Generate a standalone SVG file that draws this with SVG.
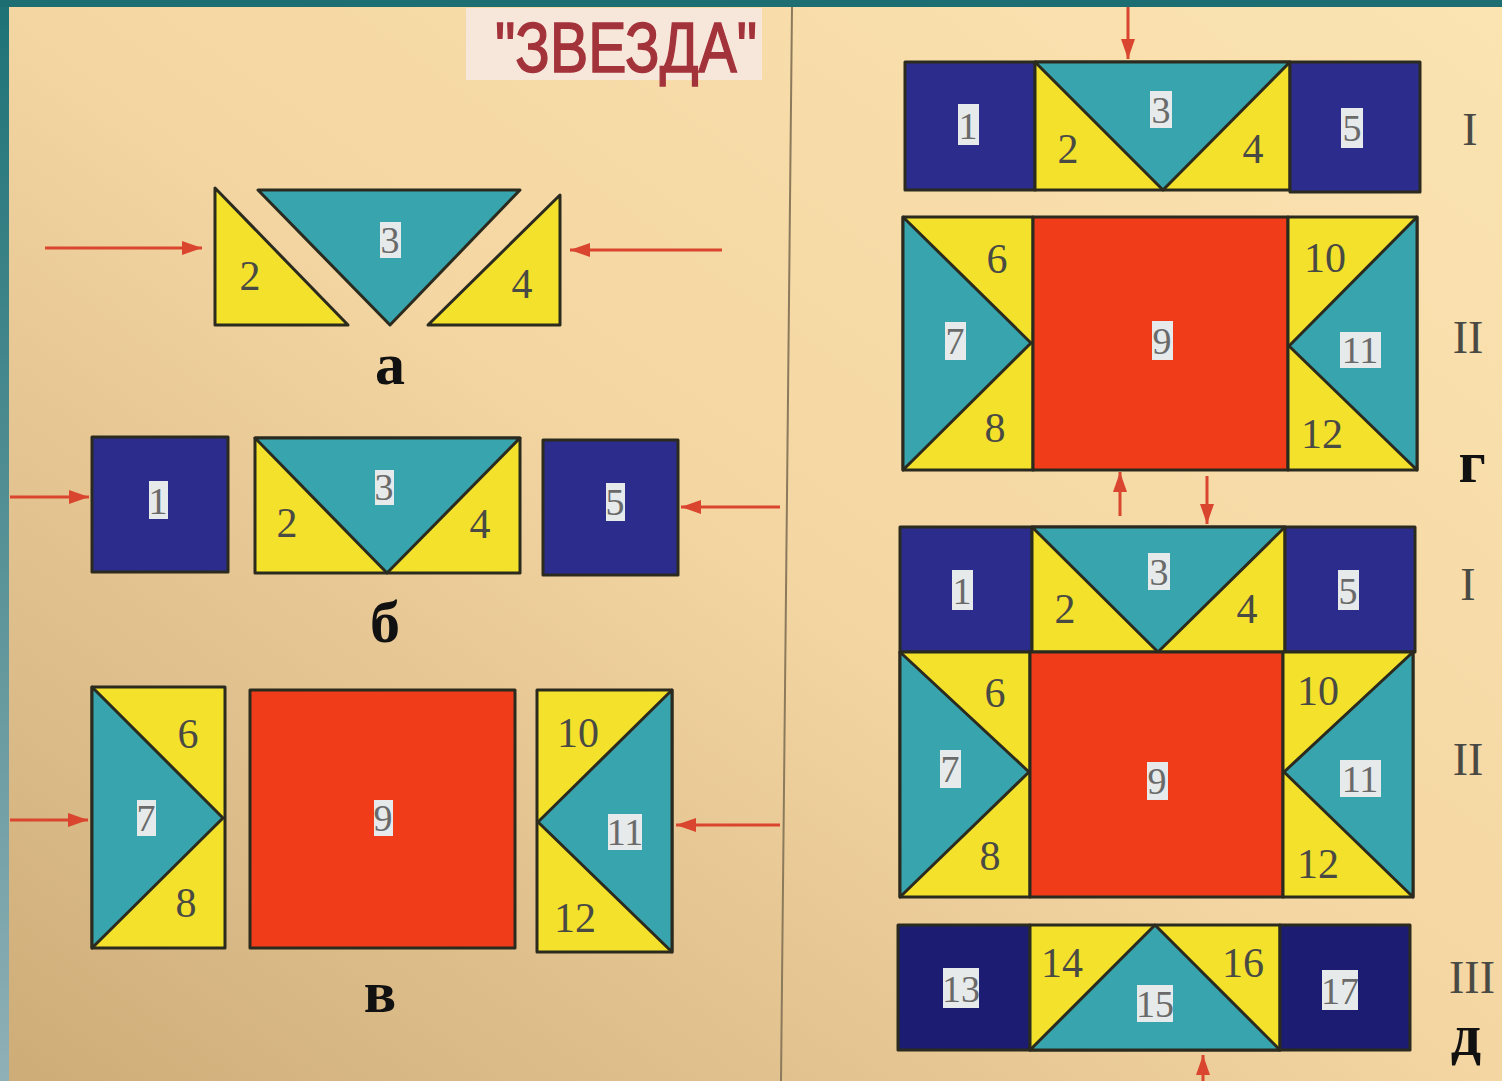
<svg xmlns="http://www.w3.org/2000/svg" width="1502" height="1081" viewBox="0 0 1502 1081">
<defs>
<linearGradient id="bg" x1="1" y1="0" x2="0" y2="1">
<stop offset="0" stop-color="#fbe4b2"/>
<stop offset="0.5" stop-color="#f4d6a2"/>
<stop offset="1" stop-color="#cdac78"/>
</linearGradient>
<linearGradient id="edge" x1="0" y1="0" x2="0" y2="1">
<stop offset="0" stop-color="#1d7276"/>
<stop offset="1" stop-color="#8fb0b6"/>
</linearGradient>
<marker id="ah" markerUnits="userSpaceOnUse" markerWidth="22" markerHeight="16" refX="20" refY="8" orient="auto">
<path d="M0,1 L20,8 L0,15 Z" fill="#d9452e"/>
</marker>
<style>
.o{stroke:#2b2a1e;stroke-width:3;stroke-linejoin:round}
.y{fill:#f3e12b}
.t{fill:#38a5ae}
.b{fill:#2c2c8c}
.bd{fill:#1c1c72}
.r{fill:#f03c18}
.n{font-family:"Liberation Serif","DejaVu Serif",serif;font-size:42px;fill:#4a4a44;text-anchor:middle}
.nb{fill:#e6eaea}
.nt{font-family:"Liberation Serif","DejaVu Serif",serif;font-size:38px;fill:#6a6a6a;text-anchor:middle}
.lt{font-family:"Liberation Serif","DejaVu Serif",serif;font-size:60px;font-weight:bold;fill:#111;text-anchor:middle}
.rm{font-family:"Liberation Serif","DejaVu Serif",serif;font-size:46px;fill:#4a4a44;text-anchor:middle}
.ar{stroke:#d9452e;stroke-width:3;fill:none;marker-end:url(#ah)}
</style>
</defs>

<rect x="0" y="0" width="1502" height="1081" fill="url(#bg)"/>
<rect x="0" y="0" width="9" height="1081" fill="url(#edge)"/>
<rect x="0" y="0" width="1502" height="7" fill="#1c6e72"/>
<line x1="792" y1="7" x2="781" y2="1081" stroke="#8c7a5c" stroke-width="2"/>

<g id="title">
<rect x="466" y="8" width="296" height="72" fill="#f7e6da"/>
<text x="495" y="72" font-family="'Liberation Sans','DejaVu Sans',sans-serif" font-size="70" fill="#a3333a" stroke="#a3333a" stroke-width="1.5" textLength="262" lengthAdjust="spacingAndGlyphs">"ЗВЕЗДА"</text>
</g>

<!-- part a -->
<g id="a-piece2">
<polygon class="o y" points="215,188 215,325 348,325"/>
<text class="n" x="250" y="290">2</text>
</g>
<g id="a-piece3">
<polygon class="o t" points="258,190 520,190 390,325"/>
<rect class="nb" x="380" y="222" width="21" height="36"/>
<text class="nt" x="390" y="253">3</text>
</g>
<g id="a-piece4">
<polygon class="o y" points="560,195 560,325 428,325"/>
<text class="n" x="522" y="298">4</text>
</g>
<text class="lt" x="390" y="384">а</text>

<!-- part б -->
<g id="b-piece1">
<rect class="o b" x="92" y="437" width="136" height="135"/>
<rect class="nb" x="149" y="481" width="19" height="38"/>
<text class="nt" x="158" y="514">1</text>
</g>
<g id="b-piece234">
<rect class="o y" x="255" y="438" width="265" height="135"/>
<polygon class="o t" points="255,438 520,438 387,573"/>
<rect class="nb" x="375" y="470" width="19" height="35"/>
<text class="nt" x="384" y="500">3</text>
<text class="n" x="287" y="537">2</text>
<text class="n" x="480" y="538">4</text>
</g>
<g id="b-piece5">
<rect class="o b" x="543" y="440" width="135" height="135"/>
<rect class="nb" x="606" y="483" width="19" height="38"/>
<text class="nt" x="615" y="515">5</text>
</g>
<text class="lt" x="385" y="642">б</text>

<!-- part в -->
<g id="v-left">
<rect class="o y" x="92" y="687" width="133" height="261"/>
<polygon class="o t" points="92,687 223,818 92,948"/>
<text class="n" x="188" y="748">6</text>
<rect class="nb" x="137" y="800" width="19" height="36"/>
<text class="nt" x="146" y="831">7</text>
<text class="n" x="186" y="917">8</text>
</g>
<g id="v-center">
<rect class="o r" x="250" y="690" width="265" height="258"/>
<rect class="nb" x="374" y="800" width="19" height="36"/>
<text class="nt" x="383" y="831">9</text>
</g>
<g id="v-right">
<rect class="o y" x="537" y="690" width="135" height="262"/>
<polygon class="o t" points="672,690 672,952 538,822"/>
<text class="n" x="578" y="747">10</text>
<rect class="nb" x="608" y="814" width="34" height="36"/>
<text class="nt" x="625" y="845">11</text>
<text class="n" x="575" y="932">12</text>
</g>
<text class="lt" x="380" y="1012">в</text>

<!-- part г -->
<g id="g-row1">
<rect class="o b" x="905" y="62" width="130" height="128"/>
<rect class="o y" x="1035" y="62" width="255" height="128"/>
<polygon class="o t" points="1035,62 1290,62 1163,190"/>
<rect class="o b" x="1290" y="62" width="130" height="130"/>
<rect class="nb" x="958" y="104" width="21" height="41"/>
<text class="nt" x="968" y="139">1</text>
<rect class="nb" x="1150" y="91" width="22" height="37"/>
<text class="nt" x="1161" y="123">3</text>
<text class="n" x="1068" y="163">2</text>
<text class="n" x="1253" y="163">4</text>
<rect class="nb" x="1341" y="108" width="22" height="40"/>
<text class="nt" x="1352" y="141">5</text>
</g>
<text class="rm" x="1470" y="145">I</text>
<g id="g-row2">
<rect class="o y" x="903" y="217" width="130" height="253"/>
<polygon class="o t" points="903,217 1031,343 903,470"/>
<rect class="o r" x="1033" y="217" width="255" height="253"/>
<rect class="o y" x="1288" y="217" width="129" height="253"/>
<polygon class="o t" points="1417,217 1417,470 1289,346"/>
<text class="n" x="997" y="273">6</text>
<rect class="nb" x="945" y="322" width="21" height="38"/>
<text class="nt" x="955" y="354">7</text>
<text class="n" x="995" y="442">8</text>
<rect class="nb" x="1152" y="321" width="21" height="39"/>
<text class="nt" x="1162" y="354">9</text>
<text class="n" x="1325" y="272">10</text>
<rect class="nb" x="1340" y="332" width="41" height="36"/>
<text class="nt" x="1360" y="363">11</text>
<text class="n" x="1322" y="448">12</text>
</g>
<text class="rm" x="1468" y="353">II</text>
<text class="lt" x="1472" y="482">г</text>

<!-- part д -->
<g id="d-row1">
<rect class="o b" x="900" y="527" width="132" height="125"/>
<rect class="o y" x="1032" y="527" width="253" height="125"/>
<polygon class="o t" points="1032,527 1285,527 1158,652"/>
<rect class="o b" x="1285" y="527" width="130" height="125"/>
<rect class="nb" x="952" y="570" width="21" height="40"/>
<text class="nt" x="962" y="604">1</text>
<rect class="nb" x="1148" y="553" width="22" height="37"/>
<text class="nt" x="1159" y="585">3</text>
<text class="n" x="1065" y="623">2</text>
<text class="n" x="1247" y="623">4</text>
<rect class="nb" x="1338" y="570" width="21" height="40"/>
<text class="nt" x="1348" y="604">5</text>
</g>
<text class="rm" x="1468" y="600">I</text>
<g id="d-row2">
<rect class="o y" x="900" y="652" width="130" height="245"/>
<polygon class="o t" points="900,652 1029,772 900,897"/>
<rect class="o r" x="1030" y="652" width="253" height="245"/>
<rect class="o y" x="1283" y="652" width="130" height="245"/>
<polygon class="o t" points="1413,652 1413,897 1284,772"/>
<text class="n" x="995" y="707">6</text>
<rect class="nb" x="940" y="750" width="21" height="38"/>
<text class="nt" x="950" y="782">7</text>
<text class="n" x="990" y="870">8</text>
<rect class="nb" x="1147" y="762" width="21" height="38"/>
<text class="nt" x="1157" y="794">9</text>
<text class="n" x="1318" y="705">10</text>
<rect class="nb" x="1340" y="760" width="41" height="37"/>
<text class="nt" x="1360" y="792">11</text>
<text class="n" x="1318" y="878">12</text>
</g>
<text class="rm" x="1468" y="775">II</text>
<g id="d-row3">
<rect class="o bd" x="898" y="925" width="132" height="125"/>
<rect class="o y" x="1030" y="925" width="250" height="125"/>
<polygon class="o t" points="1155,925 1280,1050 1030,1050"/>
<rect class="o bd" x="1280" y="925" width="130" height="125"/>
<rect class="nb" x="943" y="968" width="36" height="40"/>
<text class="nt" x="961" y="1002">13</text>
<text class="n" x="1062" y="977">14</text>
<rect class="nb" x="1137" y="985" width="36" height="37"/>
<text class="nt" x="1155" y="1017">15</text>
<text class="n" x="1243" y="977">16</text>
<rect class="nb" x="1322" y="970" width="36" height="40"/>
<text class="nt" x="1340" y="1004">17</text>
</g>
<text class="rm" x="1472" y="993">III</text>
<text class="lt" x="1466" y="1055">д</text>

<g id="connectors">
<line class="ar" x1="45" y1="248" x2="202" y2="248"/>
<line class="ar" x1="722" y1="250" x2="570" y2="250"/>
<line class="ar" x1="10" y1="497" x2="89" y2="497"/>
<line class="ar" x1="780" y1="507" x2="681" y2="507"/>
<line class="ar" x1="10" y1="820" x2="88" y2="820"/>
<line class="ar" x1="780" y1="825" x2="676" y2="825"/>
<line class="ar" x1="1128" y1="7" x2="1128" y2="59"/>
<line class="ar" x1="1120" y1="516" x2="1120" y2="472"/>
<line class="ar" x1="1207" y1="476" x2="1207" y2="524"/>
<line class="ar" x1="1203" y1="1081" x2="1203" y2="1055"/>
</g>
</svg>
